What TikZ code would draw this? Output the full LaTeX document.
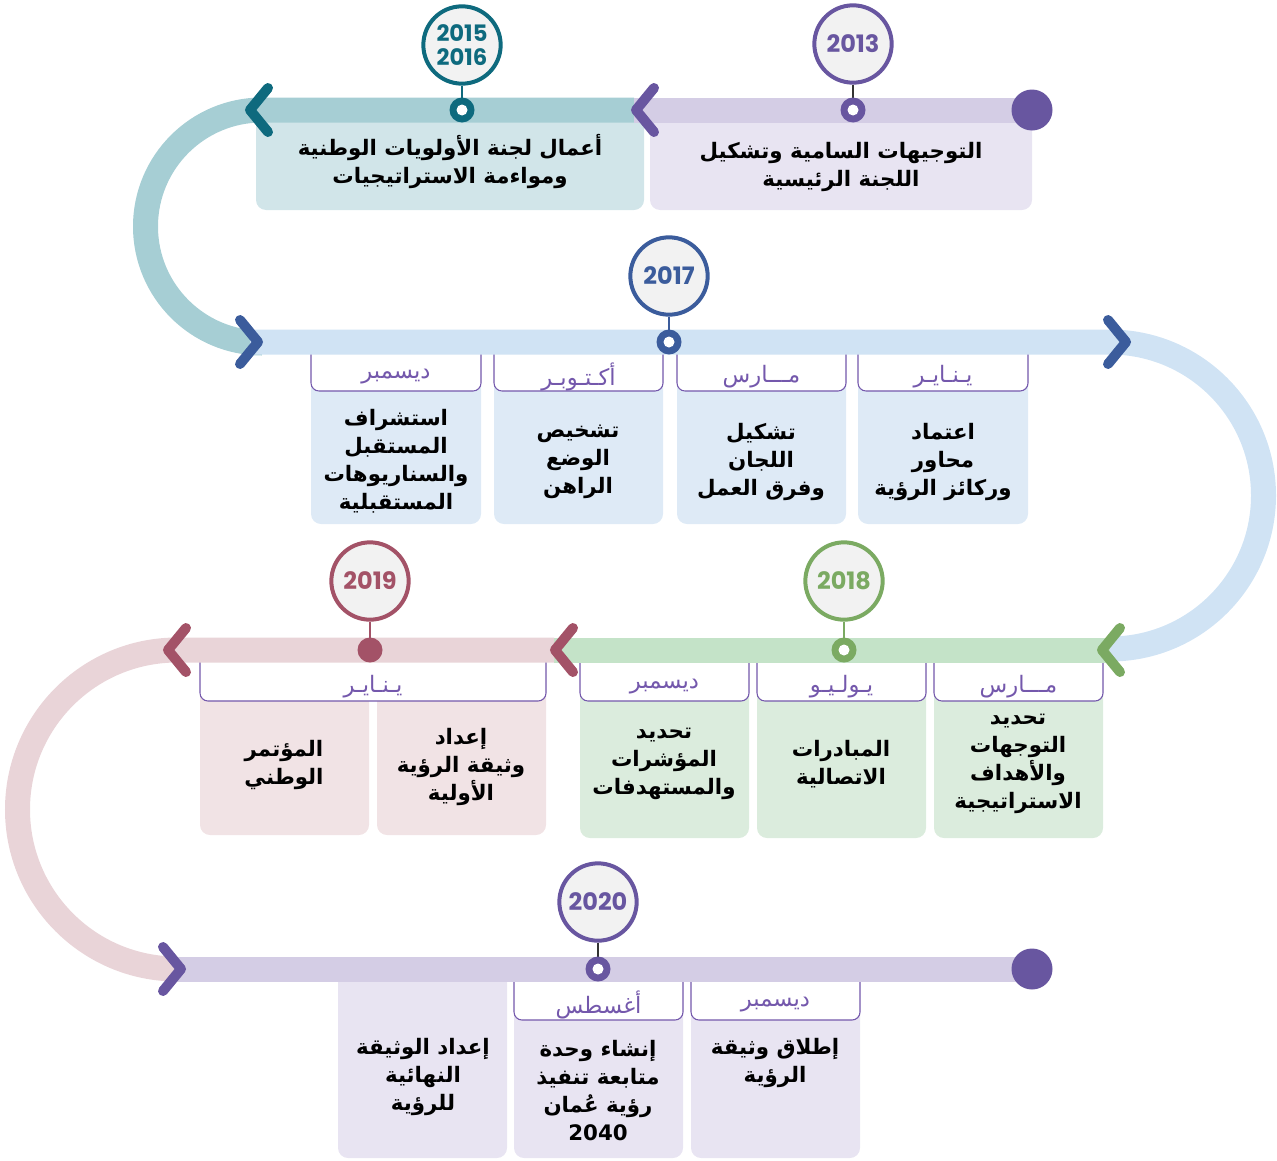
\documentclass[tikz,border=0pt]{standalone}
\usepackage{fontspec}
\newfontfamily\arabicfont[Script=Arabic]{DejaVu Sans}
\newfontfamily\yearfont{Poppins}
\TeXXeTstate=1
\newcommand{\arline}[1]{\beginR #1\endR}

\definecolor{tealdk}{HTML}{0E6A7E}
\definecolor{tealbar}{HTML}{A6CED4}
\definecolor{tealbox}{HTML}{D1E5E9}
\definecolor{purp}{HTML}{6856A0}
\definecolor{purpbar}{HTML}{D4CDE5}
\definecolor{purpbox}{HTML}{E8E4F2}
\definecolor{bluedk}{HTML}{3B5C9C}
\definecolor{bluebar}{HTML}{D0E3F4}
\definecolor{bluebox}{HTML}{DEEAF6}
\definecolor{greendk}{HTML}{7BAA62}
\definecolor{greenbar}{HTML}{C4E3C8}
\definecolor{greenbox}{HTML}{DBECDD}
\definecolor{pinkdk}{HTML}{A35267}
\definecolor{pinkbar}{HTML}{E9D4D8}
\definecolor{pinkbox}{HTML}{F1E3E5}
\definecolor{monthc}{HTML}{7458AC}
\definecolor{yearbg}{HTML}{F2F2F2}
\definecolor{stemc}{HTML}{333333}

\begin{document}
\begin{tikzpicture}[x=0.75pt,y=-0.75pt,
  bar/.style={line width=18.75pt},
  chev/.style={line width=7.5pt, line cap=round, line join=round},
  card/.style={rounded corners=7.5pt},
  head/.style={fill=white, draw=monthc, line width=0.8pt, rounded corners=6pt},
  body/.style={align=center, font=\arabicfont\bfseries\fontsize{16}{21}\selectfont},
  month/.style={font=\arabicfont\fontsize{17}{18}\selectfont, text=monthc},
  year/.style={circle, draw=#1, text=#1, line width=3pt, fill=yearbg,
    minimum size=58pt, inner sep=0pt, align=center,
    font=\yearfont\bfseries\fontsize{18}{18}\selectfont},
  stem/.style={line width=1.2pt}
]
\useasboundingbox (0,0) rectangle (1277,1160);

% cards of the first row
\fill[tealbox, card] (256,110) rectangle (644,210);
\fill[purpbox, card] (650,110) rectangle (1032,210);

% 2017 cards
\foreach \xa/\xb/\mon in {311/481/ديسمبر, 494/663/أكـتـوبـر, 677/846/مـــارس, 858/1028/يـنـايـر} {
  \fill[bluebox, card] (\xa,342) rectangle (\xb,524);
  \draw[head] (\xa,333) rectangle (\xb,391);
  \node[month] (m17-\xa) at ({(\xa+\xb)/2},377) {\arline{\mon}};
}

% 2018 cards
\foreach \xa/\xb/\mon in {580/749/ديسمبر, 757/926/يـولـيـو, 934/1103/مـــارس} {
  \fill[greenbox, card] (\xa,650) rectangle (\xb,838);
  \draw[head] (\xa,641) rectangle (\xb,701);
  \node[month] (m18-\xa) at ({(\xa+\xb)/2},687) {\arline{\mon}};
}

% 2019 cards
\fill[pinkbox, card] (200,650) rectangle (369,835);
\fill[pinkbox, card] (377,650) rectangle (546,835);
\draw[head] (200,641) rectangle (546,701);
\node[month] (m19) at (373,687) {\arline{يـنـايـر}};

% 2020 cards
\fill[purpbox, card] (338,969) rectangle (507,1158);
\foreach \xa/\xb/\mon in {514/683/أغسطس, 691/860/ديسمبر} {
  \fill[purpbox, card] (\xa,969) rectangle (\xb,1158);
  \draw[head] (\xa,960) rectangle (\xb,1020);
  \node[month] (m20-\xa) at ({(\xa+\xb)/2},1005) {\arline{\mon}};
}

% the road
\draw[bar, tealbar] (634,110) -- (262,110) arc[start angle=270, end angle=90, radius=116.5];
\draw[bar, purpbar] (1032,110) -- (634,110);
\draw[bar, bluebar] (250,342) -- (1110,342) arc[start angle=-90, end angle=90, radius=153.5];
\draw[bar, greenbar] (1110,650) -- (554,650);
\draw[bar, pinkbar] (554,650) -- (177,650) arc[start angle=270, end angle=90, radius=159.5];
\draw[bar, purpbar] (177,969) -- (1032,969);

% chevrons
\draw[chev, tealdk] (268,88) -- (250,110) -- (268,132);
\draw[chev, purp] (654,88) -- (636,110) -- (654,132);
\draw[chev, bluedk] (240,320) -- (258,342) -- (240,364);
\draw[chev, bluedk] (1108,320) -- (1126,342) -- (1108,364);
\draw[chev, greendk] (1120,628) -- (1102,650) -- (1120,672);
\draw[chev, pinkdk] (573,628) -- (555,650) -- (573,672);
\draw[chev, pinkdk] (186,628) -- (168,650) -- (186,672);
\draw[chev, purp] (163,947) -- (181,969) -- (163,991);

% end dots
\fill[purp] (1032,110) circle (20.5);
\fill[purp] (1032,969) circle (20.5);

% years
\node[year=purp] (y2013) at (853,44) {2013};
\node[year=tealdk, font=\yearfont\bfseries\fontsize{17}{18}\selectfont] (y2015) at (462,45) {2015\\2016};
\node[year=bluedk] (y2017) at (669,276) {2017};
\node[year=greendk] (y2018) at (844,581) {2018};
\node[year=pinkdk] (y2019) at (370,581) {2019};
\node[year=purp] (y2020) at (598,902) {2020};

\coordinate (d2013) at (853,110);
\coordinate (d2015) at (462,110);
\coordinate (d2017) at (669,342);
\coordinate (d2018) at (844,650);
\coordinate (d2019) at (370,650);
\coordinate (d2020) at (598,969);

\draw[stem, stemc] (y2013.south) -- (d2013);
\draw[stem, tealdk] (y2015.south) -- (d2015);
\draw[stem, bluedk] (y2017.south) -- (d2017);
\draw[stem, greendk] (y2018.south) -- (d2018);
\draw[stem, pinkdk] (y2019.south) -- (d2019);
\draw[stem, stemc] (y2020.south) -- (d2020);

\fill[purp] (d2013) circle (12.5);
\fill[white] (d2013) circle (5.5);
\fill[tealdk] (d2015) circle (12.5);
\fill[white] (d2015) circle (5.5);
\fill[bluedk] (d2017) circle (12.5);
\fill[white] (d2017) circle (5.5);
\fill[greendk] (d2018) circle (12.5);
\fill[white] (d2018) circle (5.5);
\fill[pinkdk] (d2019) circle (12.5);
\fill[purp] (d2020) circle (12.5);
\fill[white] (d2020) circle (5.5);

% texts
\node[body] (t2015) at (450,162) {\arline{أعمال لجنة الأولويات الوطنية}\\\arline{ومواءمة الاستراتيجيات}};
\node[body] (t2013) at (841,167) {\arline{التوجيهات السامية وتشكيل}\\\arline{اللجنة الرئيسية}};

\node[body] (t17a) at (396,461) {\arline{استشراف}\\\arline{المستقبل}\\\arline{والسناريوهات}\\\arline{المستقبلية}};
\node[body] (t17b) at (578,462) {\arline{تشخيص}\\\arline{الوضع}\\\arline{الراهن}};
\node[body] (t17c) at (761,462) {\arline{تشكيل}\\\arline{اللجان}\\\arline{وفرق العمل}};
\node[body] (t17d) at (943,462) {\arline{اعتماد}\\\arline{محاور}\\\arline{وركائز الرؤية}};

\node[body] (t18a) at (664,764) {\arline{تحديد}\\\arline{المؤشرات}\\\arline{والمستهدفات}};
\node[body] (t18b) at (841,764) {\arline{المبادرات}\\\arline{الاتصالية}};
\node[body] (t18c) at (1018,764) {\arline{تحديد}\\\arline{التوجهات}\\\arline{والأهداف}\\\arline{الاستراتيجية}};

\node[body] (t19a) at (284,765) {\arline{المؤتمر}\\\arline{الوطني}};
\node[body] (t19b) at (461,767) {\arline{إعداد}\\\arline{وثيقة الرؤية}\\\arline{الأولية}};

\node[body] (t20a) at (423,1077) {\arline{إعداد الوثيقة}\\\arline{النهائية}\\\arline{للرؤية}};
\node[body] (t20b) at (598,1091) {\arline{إنشاء وحدة}\\\arline{متابعة تنفيذ}\\\arline{رؤية عُمان}\\2040};
\node[body] (t20c) at (775,1063) {\arline{إطلاق وثيقة}\\\arline{الرؤية}};
\end{tikzpicture}
\end{document}
